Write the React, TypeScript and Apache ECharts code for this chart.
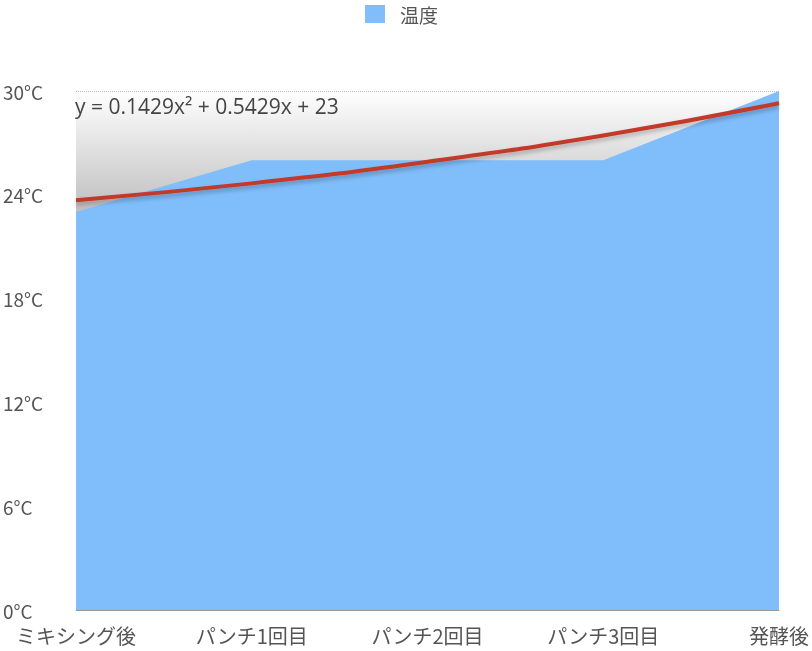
import React, { useEffect, useRef } from "react";
import * as echarts from "echarts";

// stages of the bread-making process
const stages = ["ミキシング後", "パンチ1回目", "パンチ2回目", "パンチ3回目", "発酵後"];
// measured dough temperature (°C)
const temperature = [23, 26, 26, 26, 30];
// polynomial trend line: y = 0.1429x² + 0.5429x + 23
const trend = [23.69, 24.66, 25.91, 27.43, 29.29];
const trendLabel = "y = 0.1429x² + 0.5429x + 23";
const yTicks = [0, 6, 12, 18, 24, 30];

const FONT = "'Noto Sans CJK JP', 'Noto Sans', sans-serif";

const App: React.FC = () => {
  const chartRef = useRef<HTMLDivElement>(null);

  useEffect(() => {
    if (!chartRef.current) return;
    const chart = echarts.init(chartRef.current, undefined, { renderer: "svg" });

    const option = {
      animation: false,
      textStyle: { fontFamily: FONT },
      legend: {
        data: ["温度"],
        top: 4,
        left: 365,
        padding: 0,
        icon: "rect",
        itemWidth: 20,
        itemHeight: 18,
        textStyle: {
          fontSize: 19,
          lineHeight: 20,
          color: "#555",
          fontFamily: FONT,
          padding: [0, 0, 0, 10],
        },
      },
      grid: {
        left: 75,
        right: 33,
        top: 91,
        bottom: 41,
        show: true,
        borderWidth: 0,
        backgroundColor: new echarts.graphic.LinearGradient(0, 0, 0, 1, [
          { offset: 0, color: "#ffffff" },
          { offset: 0.24, color: "#bdbdbd" },
          { offset: 1, color: "#bdbdbd" },
        ]),
      },
      xAxis: {
        type: "category",
        data: stages,
        boundaryGap: false,
        axisTick: { show: false },
        axisLine: { lineStyle: { color: "#999", width: 1 } },
        axisLabel: {
          fontSize: 20,
          lineHeight: 20,
          color: "#555",
          margin: 15,
          interval: 0,
          fontFamily: FONT,
        },
        splitLine: { show: false },
      },
      yAxis: {
        type: "value",
        min: yTicks[0],
        max: yTicks[yTicks.length - 1],
        interval: 6,
        axisLine: { show: false },
        axisTick: { show: false },
        axisLabel: {
          formatter: "{value}°C",
          fontSize: 19,
          lineHeight: 18,
          padding: [0, 0, 4, 0],
          color: "#555",
          align: "left",
          margin: 73,
          fontFamily: FONT,
        },
        splitLine: {
          show: true,
          lineStyle: {
            type: "dotted",
            width: 1,
            color: ["transparent", "transparent", "transparent", "transparent", "transparent", "#bbb"],
          },
        },
      },
      graphic: [
        {
          type: "text",
          left: 75,
          top: 95,
          style: {
            text: trendLabel,
            fontSize: 21,
            fill: "#444",
            fontFamily: "'Open Sans', 'Noto Sans', sans-serif",
          },
        },
      ],
      series: [
        {
          name: "温度",
          type: "line",
          data: temperature,
          symbol: "none",
          lineStyle: { width: 0 },
          itemStyle: { color: "#80bdfb" },
          areaStyle: { color: "#80bdfb", opacity: 1 },
          z: 2,
        },
        {
          name: "trend",
          type: "line",
          data: trend,
          smooth: true,
          symbol: "none",
          lineStyle: {
            color: "#c23a2b",
            width: 4,
            shadowColor: "rgba(0,0,0,0.25)",
            shadowBlur: 4,
            shadowOffsetY: 3,
          },
          itemStyle: { color: "#c23a2b" },
          z: 3,
        },
      ],
    };

    chart.setOption(option);
    return () => chart.dispose();
  }, []);

  return (
    <div
      ref={chartRef}
      style={{ position: "fixed", left: 0, top: 0, width: "812px", height: "651px" }}
    />
  );
};

export default App;
